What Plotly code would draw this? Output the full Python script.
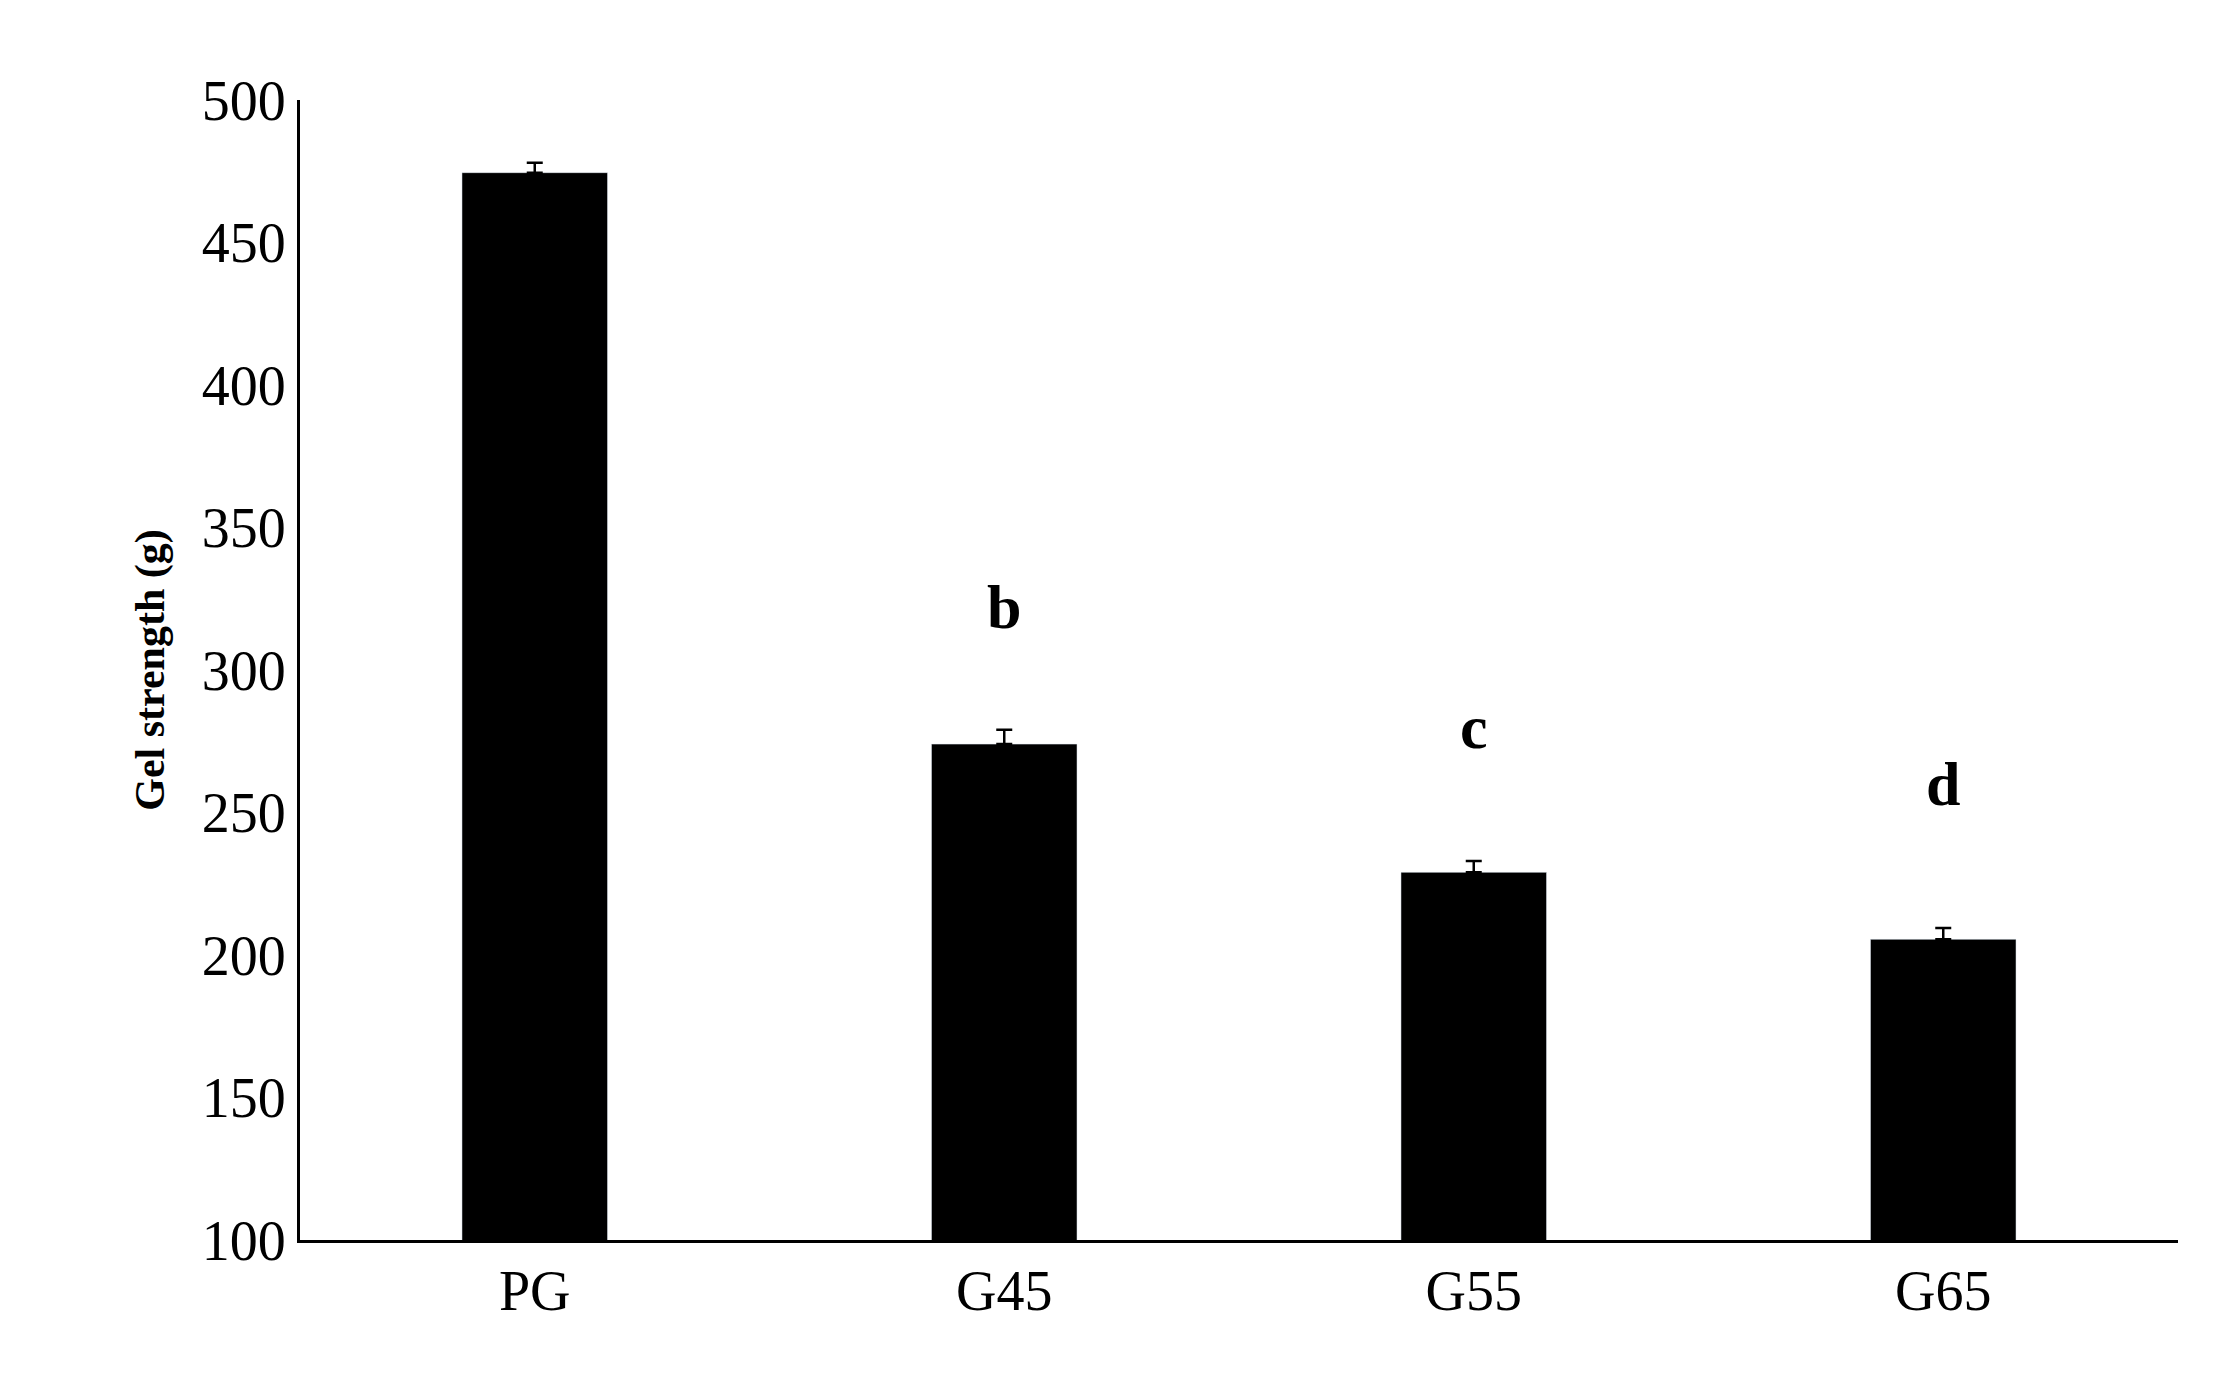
import plotly.graph_objects as go

categories = ["PG", "G45", "G55", "G65"]
values = [474.5, 274, 229, 205.5]
errors = [3.5, 5, 4, 4]
letters = ["a", "b", "c", "d"]
letter_y = [504, 322, 280, 260]

fig = go.Figure()
fig.add_bar(x=categories, y=values, marker_color="black", width=0.31,
            error_y=dict(type="data", array=errors, color="black", thickness=2.5, width=8, symmetric=False, arrayminus=[0]*4))
for c, l, y in zip(categories, letters, letter_y):
    fig.add_annotation(x=c, y=y, text=f"<b>{l}</b>", showarrow=False, yanchor="middle",
                       font=dict(family="Liberation Serif", size=62, color="black"))
fig.update_layout(
    width=2220, height=1382, plot_bgcolor="white", paper_bgcolor="white",
    margin=dict(l=292, r=50, t=92, b=150), showlegend=False,
    font=dict(family="Liberation Serif", color="black"),
    xaxis=dict(showline=True, linecolor="black", linewidth=3, ticks="", tickfont=dict(size=56)),
    yaxis=dict(range=[100, 500], dtick=50, showline=True, linecolor="black", linewidth=3,
               showgrid=False, ticks="", tickfont=dict(size=56), zeroline=False,
               title=dict(text="<b>Gel strength (g)</b>", font=dict(size=42), standoff=25)),
)
fig.write_html("out.html")
